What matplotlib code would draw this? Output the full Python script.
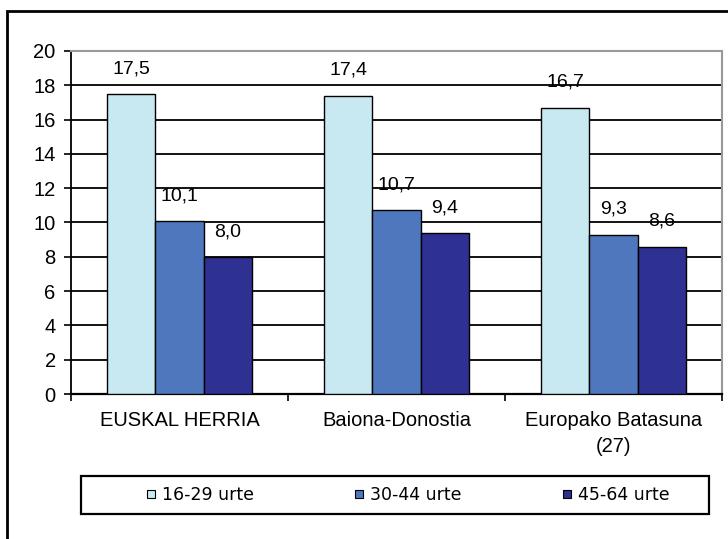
import matplotlib
matplotlib.use("Agg")
import matplotlib.pyplot as plt
import numpy as np
from matplotlib.lines import Line2D
from matplotlib.patches import Rectangle

categories = ["EUSKAL HERRIA", "Baiona-Donostia", "Europako Batasuna\n(27)"]
series_names = ["16-29 urte", "30-44 urte", "45-64 urte"]
v_16_29 = [17.5, 17.4, 16.7]
v_30_44 = [10.1, 10.7, 9.3]
v_45_64 = [8.0, 9.4, 8.6]
yticks = [0, 2, 4, 6, 8, 10, 12, 14, 16, 18, 20]
colors = ["#C9E9F2", "#4E77BE", "#2E3092"]

W, H = 728, 539
fig = plt.figure(figsize=(W / 100, H / 100), dpi=100)
ax = fig.add_axes([71 / W, 1 - 394 / H, (722 - 71) / W, (394 - 51) / H])

x = np.arange(len(categories))
bw = 0.2235
series = [v_16_29, v_30_44, v_45_64]
for i, (vals, c) in enumerate(zip(series, colors)):
    bars = ax.bar(x + (i - 1) * bw, vals, width=bw, color=c, edgecolor="black",
                  linewidth=1.0, zorder=3)
    ax.bar_label(bars, labels=[f"{v:.1f}".replace(".", ",") for v in vals],
                 padding=12, fontsize=14, family="Liberation Sans", zorder=4)

ax.set_xlim(-0.5, 2.5)
ax.set_ylim(0, 20)
ax.set_yticks(yticks)
ax.set_yticklabels([str(t) for t in yticks], fontsize=14.5, family="Liberation Sans")
ax.yaxis.grid(True, color="black", linewidth=1.3, zorder=0)
ax.set_axisbelow(True)

ax.set_xticks(x)
ax.set_xticklabels(categories, fontsize=14.5, family="Liberation Sans", linespacing=1.5)
ax.set_xticks([-0.5, 0.5, 1.5, 2.5], minor=True)
ax.tick_params(axis="x", which="major", length=0, pad=12)
ax.tick_params(axis="x", which="minor", length=5, width=1.2, direction="out")
ax.tick_params(axis="y", length=5, width=1.2, direction="out", pad=6)

for s in ["top", "right"]:
    ax.spines[s].set_color("#999999")
    ax.spines[s].set_linewidth(1.5)
ax.spines["left"].set_color("black")
ax.spines["left"].set_linewidth(1.3)
ax.spines["bottom"].set_color("black")
ax.spines["bottom"].set_linewidth(1.6)

# figure border
fig.patches.append(Rectangle((7 / W, -0.05), 1.2, (539 - 11) / H + 0.05,
                             transform=fig.transFigure, fill=False,
                             edgecolor="black", linewidth=2))

# legend box
fig.patches.append(Rectangle((81 / W, 1 - 514 / H), (709 - 81) / W, (514 - 476) / H,
                             transform=fig.transFigure, fill=False,
                             edgecolor="black", linewidth=1.6))

handles = [Line2D([0], [0], marker="s", linestyle="none", markersize=6,
                  markerfacecolor=c, markeredgecolor="black", markeredgewidth=0.8)
           for c in colors]
fig.legend(handles, series_names, loc="center", bbox_to_anchor=(408 / W, 1 - 495 / H),
           ncol=3, frameon=False, prop={"family": "DejaVu Sans", "size": 12.5},
           handlelength=0.5, handletextpad=0.4, columnspacing=5.8)

fig.savefig("out.png", dpi=100)
